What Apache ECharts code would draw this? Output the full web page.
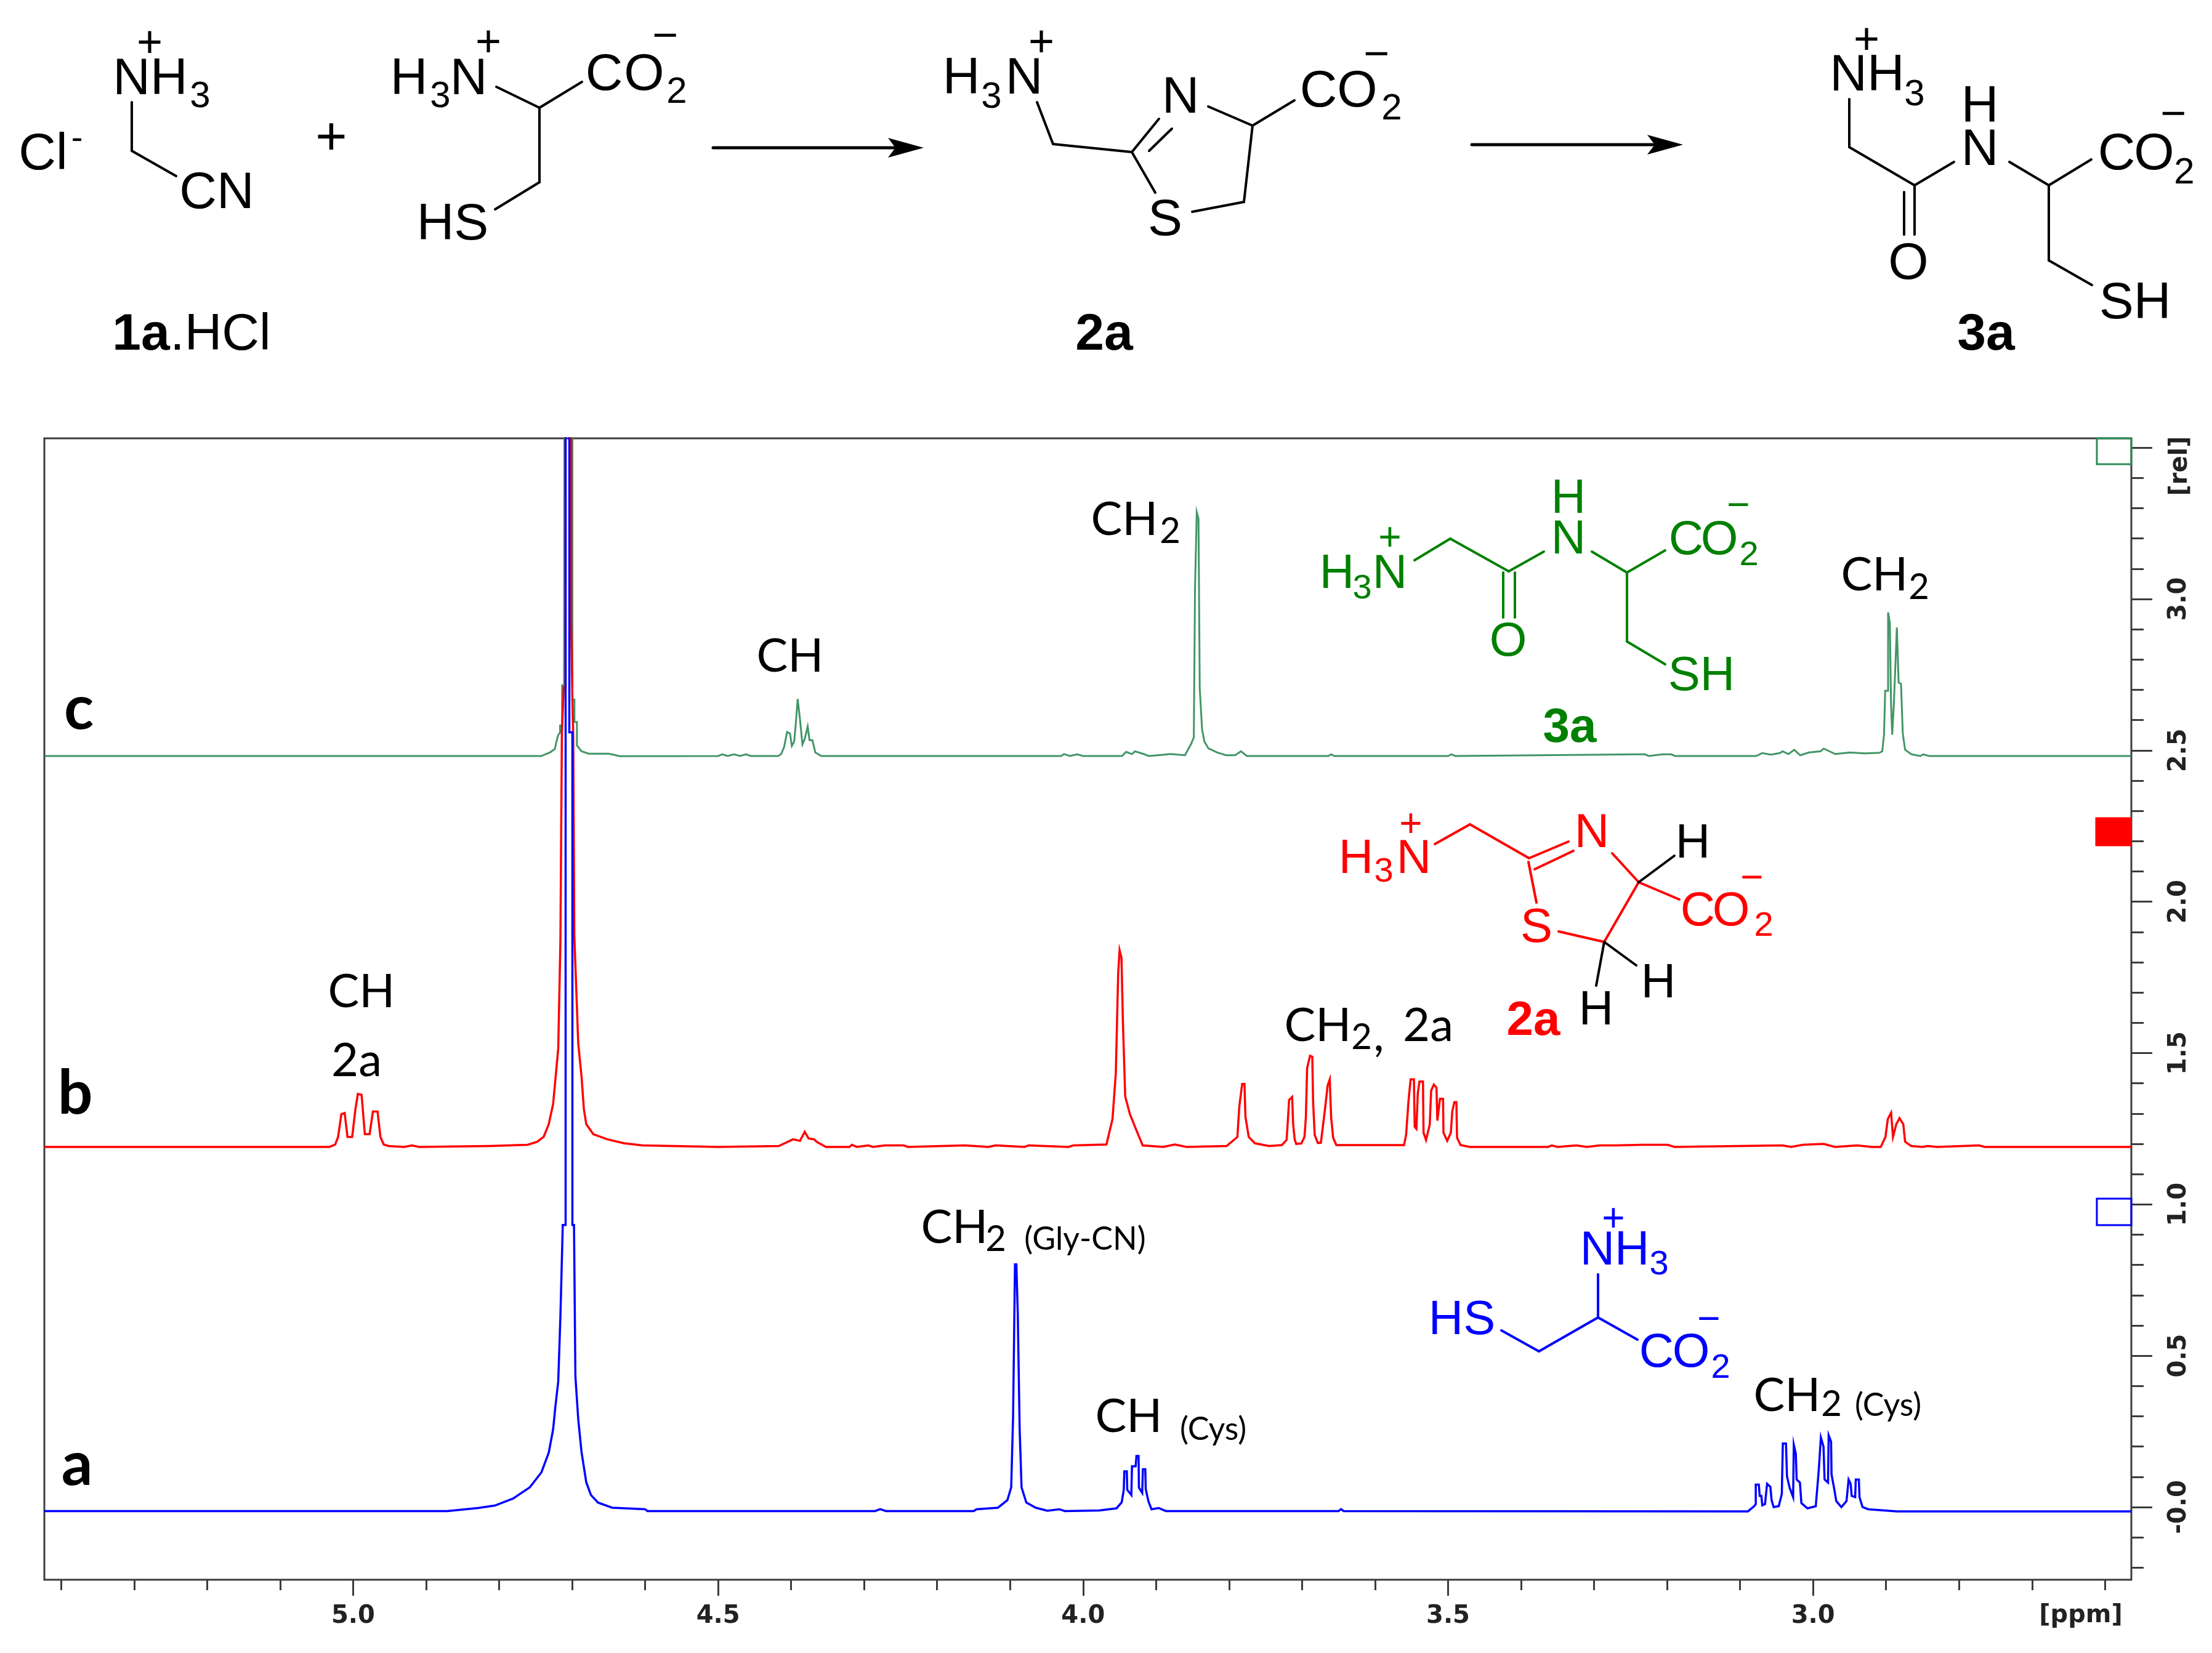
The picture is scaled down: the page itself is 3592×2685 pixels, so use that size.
<!DOCTYPE html>
<html><head><meta charset="utf-8">
<style>html,body{margin:0;padding:0;background:#fff}#c{width:3592px;height:2685px}</style>
<script src="https://cdn.jsdelivr.net/npm/echarts@6/dist/echarts.min.js"></script>
</head><body><div id="c"></div>
<script>
// values: [chemical shift in ppm, relative intensity on the stacked axis]
const spectrumA = [[5.423,-0.013],[4.871,-0.013],[4.829,-0.003],[4.806,0.005],[4.781,0.028],[4.758,0.065],[4.742,0.115],[4.732,0.18],[4.726,0.257],[4.723,0.33],[4.719,0.415],[4.716,0.632],[4.7128,0.932],[4.7089,0.932],[4.7089,3.7],[4.7038,3.7],[4.7038,2.56],[4.6996,2.56],[4.6996,0.932],[4.6974,0.932],[4.6955,0.432],[4.6916,0.29],[4.6871,0.182],[4.6806,0.082],[4.6742,0.04],[4.6645,0.015],[4.6452,-0.002],[4.6,-0.007],[4.5968,-0.013],[4.285,-0.013],[4.278,-0.007],[4.27,-0.013],[4.15,-0.013],[4.1456,-0.007],[4.1166,-0.002],[4.1037,0.023],[4.0985,0.065],[4.0959,0.298],[4.0933,0.802],[4.0914,0.802],[4.0895,0.64],[4.0869,0.257],[4.0843,0.065],[4.0778,0.015],[4.0649,-0.002],[4.0488,-0.012],[4.0327,-0.007],[4.025,-0.013],[3.9781,-0.011],[3.9542,-0.004],[3.9471,0.016],[3.9443,0.057],[3.9435,0.118],[3.9401,0.118],[3.9395,0.057],[3.9339,0.04],[3.933,0.135],[3.928,0.135],[3.9269,0.169],[3.924,0.169],[3.9235,0.064],[3.919,0.047],[3.9181,0.125],[3.9148,0.125],[3.9142,0.06],[3.9106,0.02],[3.9063,-0.007],[3.8965,-0.003],[3.8866,-0.013],[3.65,-0.013],[3.6466,-0.007],[3.643,-0.013],[3.0892,-0.014],[3.0807,0.003],[3.0785,0.01],[3.0785,0.074],[3.0743,0.074],[3.0731,0.037],[3.0709,0.037],[3.0695,0.006],[3.0658,0.01],[3.063,0.077],[3.0585,0.067],[3.0568,0.023],[3.054,0],[3.047,0.003],[3.0428,0.043],[3.0414,0.21],[3.0371,0.21],[3.0357,0.101],[3.0321,0.064],[3.0273,0.033],[3.0264,0.206],[3.0236,0.176],[3.0225,0.091],[3.018,0.081],[3.016,0.013],[3.0076,-0.004],[2.9963,0.003],[2.9921,0.125],[2.9893,0.23],[2.9857,0.2],[2.9842,0.091],[2.9795,0.081],[2.9786,0.237],[2.9753,0.216],[2.9747,0.108],[2.971,0.06],[2.9682,0.02],[2.9612,0],[2.9542,0.02],[2.9513,0.091],[2.9485,0.077],[2.9471,0.037],[2.9423,0.033],[2.9415,0.091],[2.9373,0.091],[2.9364,0.033],[2.9322,0],[2.9246,-0.007],[2.8852,-0.014],[2.564,-0.014]];

const spectrumB = [[5.423,1.19],[5.0323,1.19],[5.0245,1.198],[5.0206,1.223],[5.0161,1.298],[5.0116,1.302],[5.0077,1.223],[5.0013,1.223],[4.9968,1.315],[4.9935,1.365],[4.9884,1.362],[4.9839,1.232],[4.9774,1.232],[4.9729,1.307],[4.9665,1.307],[4.9626,1.223],[4.9581,1.198],[4.9516,1.193],[4.93,1.19],[4.9194,1.195],[4.9097,1.19],[4.813,1.193],[4.761,1.197],[4.748,1.207],[4.739,1.223],[4.732,1.265],[4.726,1.332],[4.719,1.515],[4.716,1.873],[4.714,2.56],[4.7115,2.71],[4.709,2.71],[4.709,3.7],[4.7013,3.7],[4.7013,2.92],[4.6996,2.67],[4.6985,2.55],[4.697,1.89],[4.6955,1.89],[4.6916,1.532],[4.6871,1.423],[4.6839,1.315],[4.6806,1.265],[4.671,1.232],[4.6516,1.215],[4.629,1.202],[4.6032,1.195],[4.5,1.19],[4.4168,1.193],[4.3974,1.215],[4.3878,1.21],[4.3813,1.24],[4.3761,1.218],[4.3684,1.215],[4.3652,1.207],[4.3523,1.19],[4.32,1.19],[4.3167,1.197],[4.31,1.19],[4.2941,1.195],[4.288,1.19],[4.2715,1.195],[4.2457,1.195],[4.24,1.19],[4.1618,1.195],[4.13,1.19],[4.1198,1.195],[4.08,1.19],[4.0746,1.195],[4.02,1.19],[4.0133,1.195],[3.968,1.198],[3.9597,1.282],[3.9552,1.432],[3.9519,1.765],[3.95,1.84],[3.9474,1.815],[3.9455,1.607],[3.9423,1.357],[3.9358,1.298],[3.9261,1.24],[3.9184,1.195],[3.89,1.19],[3.8745,1.198],[3.8583,1.19],[3.8034,1.193],[3.7886,1.223],[3.786,1.323],[3.7821,1.398],[3.7789,1.398],[3.7776,1.29],[3.7731,1.223],[3.7647,1.202],[3.7453,1.193],[3.7277,1.196],[3.7212,1.213],[3.7192,1.288],[3.7178,1.345],[3.7136,1.355],[3.7122,1.264],[3.71,1.213],[3.708,1.2],[3.701,1.2015],[3.6967,1.223],[3.6948,1.288],[3.6931,1.45],[3.6891,1.491],[3.686,1.488],[3.6849,1.338],[3.6827,1.23],[3.6785,1.203],[3.6742,1.204],[3.6686,1.315],[3.665,1.393],[3.6621,1.413],[3.6602,1.288],[3.6574,1.22],[3.6531,1.196],[3.5603,1.196],[3.5575,1.23],[3.5541,1.345],[3.5513,1.413],[3.5468,1.413],[3.5457,1.257],[3.5434,1.25],[3.5415,1.366],[3.5392,1.406],[3.5344,1.406],[3.5336,1.237],[3.5302,1.213],[3.5251,1.264],[3.5232,1.376],[3.5195,1.396],[3.5159,1.386],[3.5147,1.277],[3.5111,1.349],[3.5069,1.349],[3.5063,1.237],[3.5012,1.21],[3.4962,1.237],[3.4942,1.308],[3.4914,1.338],[3.4886,1.338],[3.4877,1.22],[3.4829,1.196],[3.4703,1.19],[3.3628,1.19],[3.358,1.195],[3.35,1.19],[3.3243,1.195],[3.31,1.19],[3.2923,1.195],[3.2698,1.195],[3.2345,1.197],[3.1992,1.197],[3.19,1.19],[3.042,1.195],[3.03,1.19],[3.0142,1.197],[2.9856,1.2],[2.97,1.19],[2.9396,1.195],[2.92,1.19],[2.9072,1.19],[2.9008,1.223],[2.8976,1.282],[2.8931,1.303],[2.8905,1.223],[2.886,1.265],[2.8816,1.285],[2.8764,1.265],[2.8739,1.207],[2.8655,1.193],[2.85,1.19],[2.843,1.193],[2.83,1.19],[2.7725,1.195],[2.765,1.19],[2.564,1.19]];

const spectrumC = [[5.423,2.4815],[4.7418,2.4815],[4.739,2.485],[4.7305,2.493],[4.7235,2.505],[4.722,2.524],[4.719,2.551],[4.7165,2.559],[4.7165,2.582],[4.7137,2.582],[4.7137,2.715],[4.711,2.715],[4.7105,3.7],[4.6996,3.7],[4.6996,2.668],[4.6968,2.668],[4.6968,2.594],[4.6934,2.594],[4.6934,2.516],[4.687,2.497],[4.677,2.489],[4.65,2.489],[4.6437,2.486],[4.635,2.481],[4.5,2.4815],[4.4944,2.487],[4.487,2.4815],[4.478,2.487],[4.47,2.4815],[4.462,2.487],[4.455,2.4815],[4.4176,2.4815],[4.4136,2.488],[4.4096,2.511],[4.4055,2.561],[4.4015,2.556],[4.399,2.515],[4.3958,2.529],[4.3934,2.593],[4.391,2.67],[4.3878,2.602],[4.3845,2.52],[4.3813,2.538],[4.3773,2.579],[4.3748,2.534],[4.3708,2.534],[4.3668,2.493],[4.3587,2.4815],[4.03,2.4815],[4.026,2.488],[4.018,2.4815],[4.008,2.487],[4.0,2.4815],[3.9468,2.4815],[3.941,2.495],[3.9331,2.488],[3.929,2.497],[3.917,2.488],[3.91,2.4815],[3.8927,2.485],[3.8806,2.488],[3.8604,2.484],[3.8523,2.52],[3.8483,2.543],[3.8467,3.033],[3.8443,3.287],[3.8419,3.265],[3.8412,3.033],[3.8402,2.706],[3.837,2.57],[3.8338,2.529],[3.8281,2.506],[3.816,2.493],[3.8039,2.484],[3.7918,2.484],[3.7837,2.497],[3.7756,2.4815],[3.664,2.4815],[3.66,2.487],[3.656,2.4815],[3.5,2.4815],[3.4954,2.487],[3.49,2.4815],[3.2385,2.487],[3.2304,2.487],[3.225,2.4815],[3.2063,2.487],[3.1943,2.487],[3.189,2.4815],[3.0779,2.4815],[3.0698,2.491],[3.0578,2.486],[3.0457,2.491],[3.0417,2.497],[3.0337,2.488],[3.0257,2.502],[3.0176,2.484],[3.0056,2.493],[2.9895,2.497],[2.9855,2.506],[2.9695,2.488],[2.9494,2.493],[2.9293,2.49],[2.9092,2.492],[2.9052,2.497],[2.9028,2.552],[2.9012,2.697],[2.8972,2.697],[2.8972,2.956],[2.8948,2.92],[2.8932,2.656],[2.8916,2.552],[2.8892,2.66],[2.8852,2.906],[2.8828,2.724],[2.8795,2.72],[2.8771,2.556],[2.8739,2.502],[2.8651,2.487],[2.853,2.4815],[2.849,2.487],[2.841,2.4815],[2.564,2.4815]];

const ppmMinorTicks = [5.4,5.3,5.2,5.1,4.9,4.8,4.7,4.6,4.4,4.3,4.2,4.1,3.9,3.8,3.7,3.6,3.4,3.3,3.2,3.1,2.9,2.8,2.7,2.6];
const ppmMajorTicks = [5.0,4.5,4.0,3.5,3.0];
const relMinorTicks = [-0.2,-0.1,0.1,0.2,0.3,0.4,0.6,0.7,0.8,0.9,1.1,1.2,1.3,1.4,1.6,1.7,1.8,1.9,2.1,2.2,2.3,2.4,2.6,2.7,2.8,2.9,3.1,3.2,3.3,3.4];
const relMajorTicks = [0,0.5,1.0,1.5,2.0,2.5,3.0,3.5];
const relLabels = [0,0.5,1.0,1.5,2.0,2.5,3.0];

const axisInk = '#3c3c3c';
const BLACK='#000', BLUE='#0000ff', RED='#ff0000', GREEN='#008000';
const ARIAL='"Liberation Sans", Arial, sans-serif', CAL='Lato, "Open Sans", sans-serif', DV='"DejaVu Sans", sans-serif';

const gfx = [];
function T(text,x,y,size,fill,weight,fam,rot){
  const dy = (!fam || fam===ARIAL) ? (y<600 ? 7 : 3) : (fam===CAL ? 2 : 0);
  gfx.push({type:'text',x,y:y+dy,rotation:rot||0,z:20,silent:true,style:{text,x:0,y:0,fill:fill||BLACK,
    font:(weight||'normal')+' '+size+'px '+(fam||ARIAL),align:'center',verticalAlign:'middle'}});
}
function L(pts,stroke,w){
  for(let i=0;i<pts.length-1;i++){
    gfx.push({type:'line',z:15,silent:true,shape:{x1:pts[i][0],y1:pts[i][1],x2:pts[i+1][0],y2:pts[i+1][1]},
      style:{stroke:stroke||BLACK,lineWidth:w||4,lineCap:'round'}});
  }
}
function arrow(x1,x2,y){
  L([[x1,y],[x2-40,y]],BLACK,5);
  gfx.push({type:'polygon',z:15,silent:true,shape:{points:[[x2,y],[x2-58,y-16],[x2-46,y],[x2-58,y+16]]},style:{fill:BLACK}});
}
// ---- reaction scheme
T('Cl',70,245,84); T('-',125,220,56,BLACK);
T('+',243,65,72); T('NH',244,123,84); T('3',325,150,60);
L([[214,166],[214,245],[286,286]]);
T('CN',352,308,84);
T('+',538,220,88);
T('H',664,123,84); T('3',715,150,60); T('N',761,123,84); T('+',793,64,72);
L([[806,141],[876,175],[945,133]]); L([[876,175],[876,296],[804,340]]);
T('C',981,116,84); T('O',1046,116,84); T('2',1099,143,60); T('−',1080,54,72);
T('HS',735,359,84);
T('1a',229,538,84,BLACK,'bold'); T('.HCl',358,538,84);
arrow(1158,1500,240);
T('H',1561,122,84); T('3',1610,151,60); T('N',1663,122,84); T('+',1691,64,72);
L([[1684,166],[1710,234],[1838,247],[1882,193]]); L([[1866,245],[1903,209]]);
T('N',1917,153,84);
L([[1962,173],[2034,204],[2102,163]]); L([[2034,204],[2020,328],[1936,344]]); L([[1838,247],[1876,313]]);
T('S',1892,352,84);
T('C',2141,143,84); T('O',2204,143,84); T('2',2260,170,60); T('−',2235,84,72);
T('2a',1793,538,84,BLACK,'bold');
arrow(2390,2733,235);
T('NH',3032,117,84); T('3',3109,147,60); T('+',3031,60,72);
L([[3003,161],[3003,239],[3109,301],[3173,263]]); L([[3109,301],[3109,381]]); L([[3092,312],[3092,381]]);
T('O',3099,423,84); T('N',3215,238,84); T('H',3215,168,84);
L([[3263,263],[3327,301],[3396,259]]); L([[3327,301],[3327,423],[3397,463]]);
T('SH',3467,487,84);
T('C',3437,245,84); T('O',3498,245,84); T('2',3547,274,60); T('−',3529,181,72);
T('3a',3225,538,84,BLACK,'bold');
// ---- green structure 3a
T('H',2171,930,78,GREEN); T('3',2212,954,56,GREEN); T('N',2257,930,78,GREEN); T('+',2257,873,64,GREEN);
L([[2297,910],[2355,875],[2450,928],[2507,896]],GREEN); L([[2441,930],[2441,1003]],GREEN); L([[2460,930],[2460,1003]],GREEN);
T('O',2449,1040,78,GREEN); T('N',2547,874,78,GREEN); T('H',2547,808,78,GREEN);
L([[2585,896],[2642,930],[2704,894]],GREEN); L([[2642,930],[2642,1042],[2704,1079]],GREEN);
T('C',2738,875,78,GREEN); T('O',2792,875,78,GREEN); T('2',2840,900,56,GREEN); T('−',2823,820,64,GREEN);
T('SH',2763,1096,78,GREEN); T('3a',2549,1180,78,GREEN,'bold');
// ---- red structure 2a
T('H',2202,1393,78,RED); T('3',2247,1414,56,RED); T('N',2296,1393,78,RED); T('+',2291,1338,64,RED);
L([[2330,1371],[2387,1339],[2483,1394],[2547,1367]],RED); L([[2492,1412],[2555,1382]],RED);
T('N',2585,1351,78,RED); L([[2618,1386],[2661,1433],[2727,1461]],RED);
L([[2661,1433],[2605,1530],[2531,1513]],RED); L([[2495,1466],[2482,1400]],RED);
T('S',2495,1505,78,RED);
T('C',2757,1478,78,RED); T('O',2811,1478,78,RED); T('2',2864,1502,56,RED); T('−',2845,1425,64,RED);
L([[2661,1433],[2719,1390]],BLACK); T('H',2749,1368,78);
L([[2605,1530],[2657,1568]],BLACK); T('H',2693,1595,78);
L([[2605,1530],[2592,1601]],BLACK); T('H',2592,1639,78);
T('2a',2490,1656,78,RED,'bold');
// ---- blue structure
T('NH',2622,2029,78,BLUE); T('3',2694,2052,56,BLUE); T('+',2620,1979,64,BLUE);
L([[2595,2070],[2595,2140],[2659,2176]],BLUE); L([[2595,2140],[2499,2195],[2438,2161]],BLUE);
T('HS',2374,2142,78,BLUE);
T('C',2690,2195,78,BLUE); T('O',2746,2195,78,BLUE); T('2',2794,2220,56,BLUE); T('−',2775,2142,64,BLUE);
// ---- peak labels
const S=76, SS=58, P=52;
T('c',128,1150,100,BLACK,'bold',CAL); T('b',122,1775,100,BLACK,'bold',CAL); T('a',125,2378,100,BLACK,'bold',CAL);
T('CH',1283,1064,S,BLACK,'normal',CAL);
T('CH',1826,842,S,BLACK,'normal',CAL); T('2',1900,861,SS,BLACK,'normal',CAL);
T('CH',3044,932,S,BLACK,'normal',CAL); T('2',3116,952,SS,BLACK,'normal',CAL);
T('CH',587,1609,S,BLACK,'normal',CAL); T('2a',579,1721,S,BLACK,'normal',CAL);
T('CH',2140,1664,S,BLACK,'normal',CAL); T('2',2211,1683,SS,BLACK,'normal',CAL); T(',',2239,1680,S,BLACK,'normal',CAL); T('2a',2319,1664,S,BLACK,'normal',CAL);
T('CH',1550,1992,S,BLACK,'normal',CAL); T('2',1617,2011,SS,BLACK,'normal',CAL); T('(Gly-CN)',1762,2011,P,BLACK,'normal',CAL);
T('CH',1833,2299,S,BLACK,'normal',CAL); T('(Cys)',1970,2320,P,BLACK,'normal',CAL);
T('CH',2902,2265,S,BLACK,'normal',CAL); T('2',2974,2279,SS,BLACK,'normal',CAL); T('(Cys)',3066,2281,P,BLACK,'normal',CAL);
// ---- axis units
T('[ppm]',3379,2625,40,'#222','bold',DV);
T('[rel]',3541,757,40,'#222','bold',DV,Math.PI/2);
// ---- intensity-scale handles at the right edge
function box(x,y,w,h,stroke,fill){gfx.push({type:'rect',z:12,silent:true,shape:{x,y,width:w,height:h},style:{stroke,fill:fill||'transparent',lineWidth:3}});}
box(3405,712,56,42,'#2e8b57');
box(3404,1329,56,44,RED,RED);
box(3405,1947,56,43,BLUE);

const grid = {left:72,right:3592-3461,top:712,bottom:2685-2566,show:true,backgroundColor:'#fff',borderColor:axisInk,borderWidth:3};
const xBase = {type:'value',inverse:true,min:2.564,max:5.423,position:'bottom',axisLine:{show:false,onZero:false},splitLine:{show:false},minorTick:{show:false}};
const yBase = {type:'value',min:-0.24,max:3.531,position:'right',axisLine:{show:false,onZero:false},splitLine:{show:false},minorTick:{show:false}};
const tickStyle = {color:axisInk,width:3};
function spectrum(name,data,color,w,opacity){
  return {name,type:'line',data,symbol:'none',xAxisIndex:0,yAxisIndex:0,clip:true,animation:false,
    lineStyle:{color,width:w,opacity:opacity||1,join:'miter'},emphasis:{disabled:true}};
}
const chart = echarts.init(document.getElementById('c'),null,{renderer:'canvas'});
chart.setOption({
  animation:false,backgroundColor:'#fff',grid,
  xAxis:[
    Object.assign({},xBase,{axisTick:{show:true,length:17,lineStyle:tickStyle,customValues:ppmMinorTicks},axisLabel:{show:false}}),
    Object.assign({},xBase,{axisTick:{show:true,length:26,lineStyle:tickStyle,customValues:ppmMajorTicks},
      axisLabel:{show:true,customValues:ppmMajorTicks,margin:40,color:'#222',fontFamily:'DejaVu Sans',fontWeight:'bold',fontSize:40,formatter:v=>Number(v).toFixed(1)}})
  ],
  yAxis:[
    Object.assign({},yBase,{axisTick:{show:true,length:20,lineStyle:tickStyle,customValues:relMinorTicks},axisLabel:{show:false}}),
    Object.assign({},yBase,{axisTick:{show:true,length:34,lineStyle:tickStyle,customValues:relMajorTicks},
      axisLabel:{show:true,customValues:relLabels,rotate:90,margin:58,color:'#222',fontFamily:'DejaVu Sans',fontWeight:'bold',fontSize:40,
        formatter:v=>(Number(v)===0?'-0.0':Number(v).toFixed(1))}})
  ],
  graphic:{elements:gfx},
  series:[
    spectrum('c',spectrumC,'#2e8b57',3,0.9),
    spectrum('b',spectrumB,RED,3.5),
    spectrum('a',spectrumA,BLUE,3.5)
  ]
});
</script></body></html>
